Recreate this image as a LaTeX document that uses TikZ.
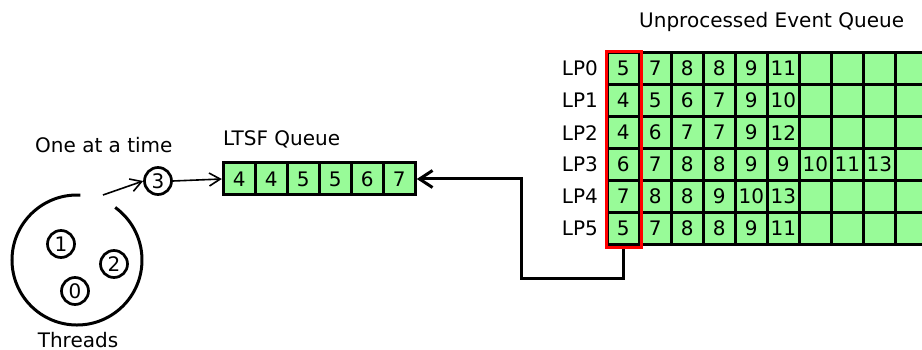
\documentclass[tikz,border=0pt]{standalone}
\usepackage{fontspec}
\setmainfont{DejaVu Sans}
\usetikzlibrary{arrows.meta}
\definecolor{cellgreen}{RGB}{152,251,152}
\tikzset{
  cell/.style={draw=black, line width=3pt, fill=cellgreen, minimum width=32pt, minimum height=32pt, inner sep=0pt, font=\fontsize{20}{24}\selectfont},
  thread/.style={draw=black, circle, line width=2.7pt, minimum size=27pt, inner sep=0pt, font=\fontsize{20}{24}\selectfont},
  lbl/.style={inner sep=0pt, font=\fontsize{20}{24}\selectfont},
  thinarrow/.style={line width=1.6pt, -{Straight Barb[length=11pt,width=13pt]}},
  thickarrow/.style={line width=3pt, -{Straight Barb[length=13pt,width=17pt]}},
  redbox/.style={draw=red, line width=3pt, inner sep=0pt, minimum width=35.5pt, minimum height=196pt}
}
\begin{document}
\begin{tikzpicture}[x=1pt,y=1pt]
\useasboundingbox (0,0) rectangle (922,-350);
\clip (0,0) rectangle (922,-350);
% titles
\node[lbl, anchor=base west] (tUEQ) at (639,-28) {Unprocessed Event Queue};
\node[lbl, anchor=base west] (tLTSF) at (223,-145.5) {LTSF Queue};
\node[lbl, anchor=base west] (tOne) at (35,-153) {One at a time};
\node[lbl, anchor=base] (tThr) at (78,-347) {Threads};
% LP grid
\foreach \r/\vals in {0/{5,7,8,8,9,11,,,,},1/{4,5,6,7,9,10,,,,},2/{4,6,7,7,9,12,,,,},3/{6,7,8,8,9,9,10,11,13,},4/{7,8,8,9,10,13,,,,},5/{5,7,8,8,9,11,,,,}}{
  \node[lbl, anchor=east] (lp\r) at (598,-68.7-32*\r) {LP\r};
  \foreach \v [count=\k from 0] in \vals {
    \node[cell] (c\r-\k) at (623.3+32*\k,-68.7-32*\r) {\v};
  }
}
\node[redbox] (red) at (623.8,-149.2) {};
% LTSF queue
\foreach \v [count=\k from 1] in {4,4,5,5,6,7}{
  \node[cell] (q\k) at (207.3+32*\k,-179) {\v};
}
% threads
\draw[line width=3pt] (80.4,-195.1) arc[start angle=87, end angle=414, radius=65];
\node[thread] (th1) at (61,-244) {1};
\node[thread] (th2) at (114,-264) {2};
\node[thread] (th0) at (75,-291) {0};
\node[thread] (th3) at (158,-181) {3};
\coordinate (out) at (103,-195);
\draw[thinarrow] (out) -- (th3.west);
\draw[thinarrow] (th3.east) -- (q1.west);
% connector from red column to LTSF queue
\coordinate (b1) at (623.8,-278);
\coordinate (b2) at (521,-278);
\coordinate (b3) at (521,-179);
\draw[thickarrow, line join=miter] (red.south) -- (b1) -- (b2) -- (b3) -- (q6.east);
\end{tikzpicture}
\end{document}
